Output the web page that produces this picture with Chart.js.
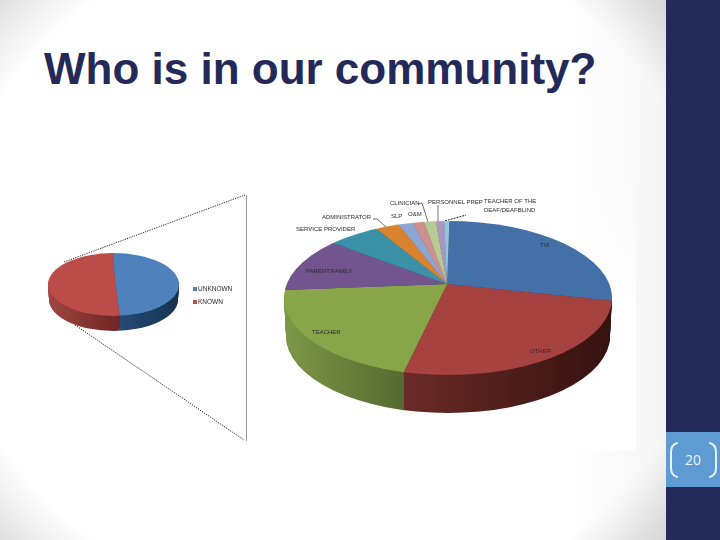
<!DOCTYPE html>
<html><head><meta charset="utf-8">
<script src="https://cdn.jsdelivr.net/npm/chart.js@4"></script>
<style>
html,body{margin:0;padding:0;width:720px;height:540px;overflow:hidden;background:#fff}
#bg{position:absolute;left:0;top:0;width:666px;height:540px;background:linear-gradient(to right,rgba(0,0,0,0) 570px,rgba(0,0,0,.04) 666px),radial-gradient(ellipse 380px 343px at 330px 270px,#fff 100%,#e0e0e0 117%,#d8d8d8 130%)}
#paper{position:absolute;left:20px;top:168px;width:616px;height:283px;background:linear-gradient(to bottom,rgba(255,255,255,0),#fff 140px)}
#bar{position:absolute;left:666px;top:0;width:54px;height:540px;background:#232a5a}
#tab{position:absolute;left:666px;top:432px;width:54px;height:55px;background:#5f9bd3}
#num{position:absolute;left:666px;top:450px;width:54px;text-align:center;font:14px "Open Sans",sans-serif;color:#e8f2fa}
#title{position:absolute;left:44px;top:44px;font:bold 44px "Liberation Sans",sans-serif;color:#232a5a;white-space:nowrap}
canvas{position:absolute;filter:blur(.3px)}
#big{left:247px;top:84px}
#small{left:15px;top:181px}
svg{position:absolute;left:0;top:0}
.lb{position:absolute;font:6px "Liberation Sans",sans-serif;color:#2b2b2b;white-space:nowrap;line-height:9px;filter:blur(.35px)}
.lg{font-size:6.5px}
.sw{position:absolute;width:4px;height:4px}
</style></head><body>
<div id="bg"></div><div id="paper"></div><div id="bar"></div><div id="tab"></div>
<div id="title"></div><div id="num"></div>
<svg width="720" height="540">
 <g fill="none" stroke="#222" stroke-width="1" stroke-dasharray="1.2 1.2">
  <line x1="64" y1="262" x2="245" y2="195"/><line x1="75" y1="325" x2="244" y2="440"/>
  <line x1="445" y1="221" x2="466" y2="215" stroke-dasharray="2 1"/>
 </g>
 <line x1="246.5" y1="195" x2="246.5" y2="441" stroke="#9a9a9a"/>
 <g fill="none" stroke="#333" stroke-width=".7">
  <polyline points="373,219 377,219 386,227"/>
  <polyline points="418,204 422,203 428,222"/>
  <line x1="438" y1="205" x2="438" y2="222"/>
 </g>
 <g fill="none" stroke="#e6f2fb" stroke-width="2" stroke-linecap="round">
  <path d="M677 443 Q671 445 671 452 L671 468 Q671 475 677 477"/>
  <path d="M710 443 Q716 445 716 452 L716 468 Q716 475 710 477"/>
 </g>
</svg>
<canvas id="big" width="400" height="400"></canvas>
<canvas id="small" width="200" height="200"></canvas>
<div id="labels"></div>
<script>
const titleText = "Who is in our community?";
const pageNumber = "20";
const roleLabels = ["TVI","OTHER","TEACHER","PARENT/FAMILY","SERVICE PROVIDER","ADMINISTRATOR","SLP","O&M","CLINICIAN","PERSONNEL PREP","TEACHER OF THE\nDEAF/DEAFBLIND"];
const roleValues = [28.2,25.3,20.2,11.7,6,2.8,1.7,1.4,1.4,1,0.6];
const roleColors = ["#4470a8","#a64240","#88a54a","#72558f","#3a91a8","#d98230","#8ca6d4","#d08f8f","#b7cc93","#a998c4","#92c7dc"];
const roleWalls = [["#2a4468","#2a4468"],["#6a2a28","#35120f"],["#7d9848","#566a30"],["#47365a","#47365a"],["#245a68","#245a68"],["#87501e","#87501e"],["#576784","#576784"],["#815959","#815959"],["#71805b","#71805b"],["#695e79","#695e79"],["#5b7b89","#5b7b89"]];
const statusLabels = ["UNKNOWN","KNOWN"];
const statusValues = [49.5,50.5];
const statusColors = ["#4f81bd","#bb4c49"];
const statusWalls = [["#254a75","#17324f"],["#a04643","#6e2523"]];

const roleLabelPos = [[540,241],[530,347],[312,328],[306,267],[296,225],[322,213],[391,212],[408,210],[390,199],[428,198],[484,197]];
const statusLabelPos = [[198,284],[198,297]];

function pie3d(id,labels,values,colors,walls,g){
  const plugin={
    id:'tilt',
    beforeDatasetsDraw(chart){
      const c=chart.ctx, arcs=chart.getDatasetMeta(0).data, x=arcs[0].x, y=arcs[0].y;
      const ox=x+g.ex, oy=y+g.ey, ry=g.rx*g.s;
      const tilt=()=>{c.translate(x,y);c.scale(1,g.s);c.translate(-x,-y);};
      for(let d=g.depth;d>=1;d--){
        c.save();
        c.beginPath();
        const w=g.rx-(g.narrow*d/g.depth);
        c.ellipse(ox,oy+d,w,ry,0,0,Math.PI*2);
        c.clip();
        c.translate(0,d);
        tilt();
        arcs.forEach((a,i)=>{
          const span=g.wx[i]||[ox-g.rx+g.left,ox+g.rx+g.left];
          const gr=c.createLinearGradient(span[0]-g.left,0,span[1]-g.left,0);
          gr.addColorStop(0,walls[i][0]);gr.addColorStop(1,walls[i][1]);
          c.fillStyle=gr;
          c.beginPath();c.moveTo(x,y);c.arc(x,y,a.outerRadius,a.startAngle,a.endAngle);c.closePath();c.fill();
        });
        c.restore();
      }
      c.save();
      c.beginPath();
      c.ellipse(ox,oy,g.rx,ry,0,0,Math.PI*2);
      c.clip();
      tilt();
    },
    afterDatasetsDraw(chart){chart.ctx.restore();}
  };
  return new Chart(document.getElementById(id),{
    type:'pie',
    data:{labels,datasets:[{data:values,backgroundColor:colors,borderWidth:0}]},
    options:{responsive:false,animation:false,rotation:g.rot,layout:{padding:0},
      plugins:{legend:{display:false},tooltip:{enabled:false}}},
    plugins:[plugin]
  });
}
pie3d('big',roleLabels,roleValues,roleColors,roleWalls,{rx:164,s:0.47,ex:1,ey:14,depth:38,narrow:2,rot:1,left:247,
  wx:{1:[403,612],2:[284,403]}});
pie3d('small',statusLabels,statusValues,statusColors,statusWalls,{rx:65.5,s:0.48,ex:-1.5,ey:3.5,depth:15,narrow:1,rot:-2,left:15,
  wx:{0:[120,179],1:[48,120]}});

document.getElementById('title').textContent=titleText;
document.getElementById('num').textContent=pageNumber;
const host=document.getElementById('labels');
function addLabel(t,p,cls){const e=document.createElement('div');e.className='lb'+(cls?' '+cls:'');e.style.left=p[0]+'px';e.style.top=p[1]+'px';e.innerText=t;host.appendChild(e);}
roleLabels.forEach((t,i)=>addLabel(t,roleLabelPos[i]));
statusLabels.forEach((t,i)=>{addLabel(t,statusLabelPos[i],'lg');
  const s=document.createElement('div');s.className='sw';s.style.left=(statusLabelPos[i][0]-5)+'px';s.style.top=(statusLabelPos[i][1]+3)+'px';s.style.background=statusColors[i];host.appendChild(s);});
</script>
</body></html>
